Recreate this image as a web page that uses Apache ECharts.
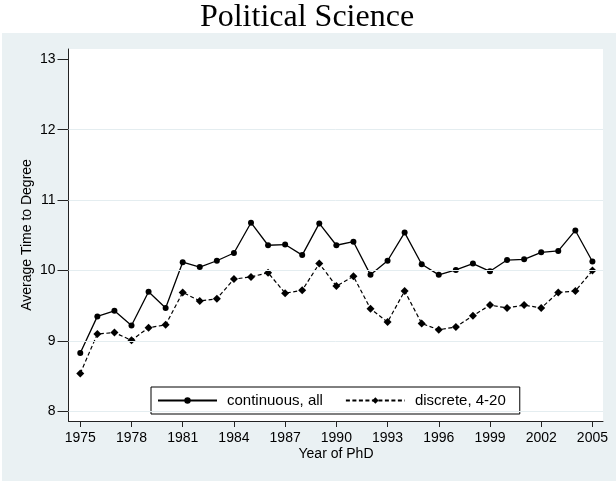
<!DOCTYPE html>
<html>
<head>
<meta charset="utf-8">
<script src="https://cdn.jsdelivr.net/npm/echarts@6/dist/echarts.min.js"></script>
<style>
html,body{margin:0;padding:0;background:#fff;}
#chart{width:616px;height:481px;}
</style>
</head>
<body>
<div id="chart"></div>
<script>
// ---- data ----
const years = [1975,1976,1977,1978,1979,1980,1981,1982,1983,1984,1985,1986,1987,1988,1989,1990,
               1991,1992,1993,1994,1995,1996,1997,1998,1999,2000,2001,2002,2003,2004,2005];
const continuousAll = [8.83,9.35,9.43,9.22,9.70,9.47,10.12,10.05,10.14,10.25,10.68,10.36,10.37,10.22,10.67,10.36,
                       10.41,9.94,10.14,10.54,10.09,9.94,10.01,10.10,9.99,10.15,10.16,10.26,10.28,10.57,10.13];
const discrete420 = [8.54,9.10,9.12,9.01,9.19,9.23,9.69,9.57,9.60,9.88,9.91,9.97,9.68,9.72,10.10,9.78,
                     9.92,9.46,9.27,9.71,9.25,9.16,9.20,9.36,9.51,9.47,9.51,9.47,9.69,9.71,10.00];
const seriesNames = ['continuous, all','discrete, 4-20'];
const xTicks = [1975,1978,1981,1984,1987,1990,1993,1996,1999,2002,2005];
const yTicks = [8,9,10,11,12,13];
const yGrid = [8,9,10,11,12];
const titleText = 'Political Science';
const xTitle = 'Year of PhD';
const yTitle = 'Average Time to Degree';

const pairs = (xs, ys) => xs.map((x, i) => [x, ys[i]]);

const panel = '#eaf1f3';
const gridColor = '#e4edf0';
const sans = 'Liberation Sans, Arial, sans-serif';
const chart = echarts.init(document.getElementById('chart'), null, {renderer: 'canvas'});

const option = {
  animation: false,
  backgroundColor: '#fff',
  graphic: [
    {type: 'rect', z: -100, shape: {x: 2, y: 33, width: 614, height: 448}, style: {fill: panel}, silent: true},
    {type: 'text', x: 307, y: 18, style: {text: titleText, font: '32px "Liberation Serif", "Times New Roman", serif', fill: '#000', align: 'center', verticalAlign: 'middle'}},
    {type: 'text', x: 336, y: 454, style: {text: xTitle, font: '14px ' + sans, fill: '#000', align: 'center', verticalAlign: 'middle'}},
    {type: 'text', x: 27, y: 235, rotation: Math.PI / 2, style: {text: yTitle, font: '14px ' + sans, fill: '#000', align: 'center', verticalAlign: 'middle'}}
  ],
  grid: {left: 68.5, top: 49, right: 13, bottom: 60, show: true, backgroundColor: '#fff', borderWidth: 0},
  legend: {
    data: seriesNames,
    left: 151, top: 387,
    itemWidth: 59, itemHeight: 8, itemGap: 22,
    padding: [6, 14, 6, 6],
    backgroundColor: '#fff', borderColor: '#000', borderWidth: 1, borderRadius: 0,
    textStyle: {fontFamily: sans, fontSize: 15, color: '#000', padding: [0, 0, 0, 5]}
  },
  xAxis: {
    type: 'value', min: 1974.31, max: 2005.62,
    axisLine: {show: true, onZero: false, lineStyle: {color: '#222', width: 1}},
    axisTick: {show: true, length: 6, customValues: xTicks, lineStyle: {color: '#222', width: 1}},
    axisLabel: {customValues: xTicks, margin: 10, fontFamily: sans, fontSize: 14, color: '#000', formatter: v => String(v)},
    splitLine: {show: false}
  },
  yAxis: {
    type: 'value', min: 7.865, max: 13.146,
    axisLine: {show: true, onZero: false, lineStyle: {color: '#222', width: 1}},
    axisTick: {show: true, length: 11, customValues: yTicks, lineStyle: {color: '#222', width: 1}},
    axisLabel: {customValues: yTicks, margin: 13, fontFamily: sans, fontSize: 14, color: '#000', formatter: v => String(v)},
    splitLine: {show: false}
  },
  series: [
    {
      name: 'grid', type: 'line', data: [], z: 1, silent: true,
      markLine: {
        silent: true, symbol: ['none', 'none'], label: {show: false},
        lineStyle: {color: gridColor, width: 1, type: 'solid'},
        data: yGrid.map(v => ({yAxis: v}))
      }
    },
    {
      name: seriesNames[0], type: 'line', data: pairs(years, continuousAll),
      symbol: 'circle', symbolSize: 6, showSymbol: true,
      lineStyle: {color: '#000', width: 1.3, type: 'solid'},
      itemStyle: {color: '#000'}, z: 3
    },
    {
      name: seriesNames[1], type: 'line', data: pairs(years, discrete420),
      symbol: 'diamond', symbolSize: 8, showSymbol: true,
      lineStyle: {color: '#000', width: 1.2, type: [4, 2.5]},
      itemStyle: {color: '#000'}, z: 3
    }
  ]
};
chart.setOption(option);
</script>
</body>
</html>
